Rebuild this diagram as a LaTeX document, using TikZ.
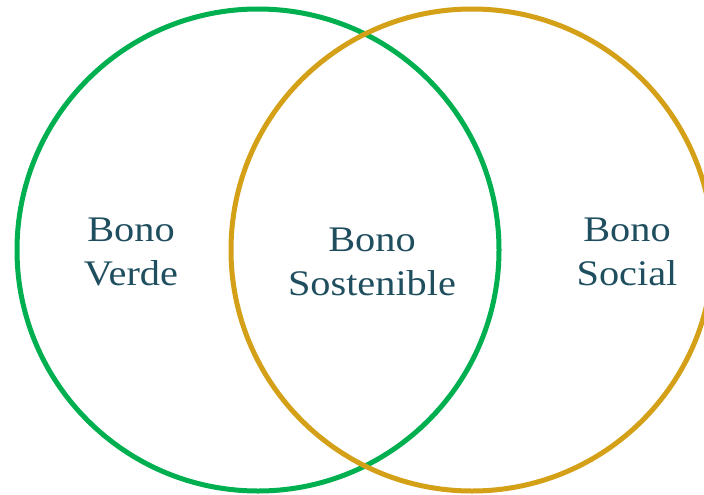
\documentclass[tikz,border=0pt]{standalone}
\usepackage{fontspec}
\setmainfont{Liberation Serif}[FakeStretch=1.12]
\usetikzlibrary{positioning}
\definecolor{verde}{RGB}{0,176,80}
\definecolor{oro}{RGB}{212,160,23}
\definecolor{texto}{RGB}{31,78,95}
\tikzset{
  ring/.style={line width=5pt},
  label/.style={align=center,text=texto,font=\fontsize{36}{44}\selectfont,inner sep=0pt}
}
\begin{document}
\begin{tikzpicture}[x=1pt,y=-1pt]
\useasboundingbox (0,0) rectangle (704,495);
\def\r{241}
\def\ya{250}
\draw[ring,verde] (258,\ya) circle (\r);
\draw[ring,oro] (472,\ya) circle (\r);
\node[label] (verde) at (131,252) {Bono\\Verde};
\node[label] (sost) at (372,262) {Bono\\Sostenible};
\node[label] (social) at (627,252) {Bono\\Social};
\end{tikzpicture}
\end{document}
